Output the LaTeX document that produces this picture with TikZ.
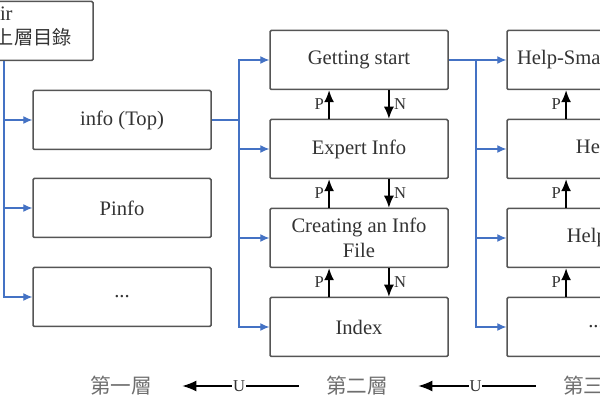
\documentclass[tikz,border=0pt]{standalone}
\usepackage{fontspec}
\setmainfont{Liberation Serif}
\newfontfamily\cjk{Noto Sans CJK TC}
\usepackage{tikz}
\usetikzlibrary{arrows.meta,calc}
\definecolor{linkblue}{RGB}{68,114,196}
\definecolor{boxgray}{RGB}{85,85,85}
\definecolor{txtgray}{RGB}{51,51,51}
\definecolor{lvgray}{RGB}{110,110,110}
\tikzstyle{page}=[draw=boxgray, line width=0.75pt, rounded corners=0.6pt, fill=white, minimum width=89pt, minimum height=29.5pt, inner sep=1pt, align=center, text=txtgray, font=\fontsize{10.3}{12.5}\selectfont]
\tikzstyle{link}=[linkblue, line width=0.55pt, -{Latex[length=4.5pt,width=4pt]}]
\tikzstyle{move}=[black, line width=0.75pt, -{Latex[length=6pt,width=5pt]}]
\tikzstyle{pn}=[font=\fontsize{8.3}{10}\selectfont, text=txtgray, inner sep=2.2pt]
\tikzstyle{level}=[inner sep=0pt, text=lvgray, font=\cjk\fontsize{10.3}{12.5}\selectfont]
\newcommand{\infonode}{\node[page]}

\begin{document}
\begin{tikzpicture}[x=0.5pt,y=-0.5pt]
	\useasboundingbox (0,0) rectangle (600,400);
	\clip (0,0) rectangle (600,400);
	%% the upper directory
	\infonode (dir) at (4,31) {};
	\node[text=txtgray, inner sep=0pt, anchor=base east, font=\fontsize{10.3}{12.5}\selectfont] (dirname) at (13,21) {dir};
	\node[text=txtgray, inner sep=0pt, anchor=base east, font=\cjk\fontsize{9.6}{12.5}\selectfont] (dirzh) at (72,45) {上層目錄};
	%% first level
	\infonode (top) at (122,120) {info (Top)};
	\infonode (pinfo) at (122,208) {Pinfo};
	\infonode (more1) at (122,297) {...};
	%% second level
	\infonode (start) at (359,60) {Getting start};
	\infonode (expert) at (359,149) {Expert Info};
	\infonode (create) at (359,238) {Creating an Info\\File};
	\infonode (index) at (359,327) {Index};
	%% third level
	\infonode (small) at (596,60) {Help-Small-Screen};
	\infonode (help) at (596,149) {Help};
	\infonode (helpp) at (596,238) {Help-P};
	\infonode (more3) at (596,327) {...};
	%% level names
	\node[level] (lv1) at (121,386) {第一層};
	\node[level] (lv2) at (357,386) {第二層};
	\node[level] (lv3) at (594,386) {第三層};
	%% the menu links
	\draw[link] (dir.south) |- (top.west);
	\draw[link] (dir.south) |- (pinfo.west);
	\draw[link] (dir.south) |- (more1.west);
	\coordinate (busB) at (239,120);
	\draw[link,-] (top.east) -- (busB);
	\foreach \n in {start,expert,create,index}
		\draw[link] (busB) |- (\n.west);
	\coordinate (busC) at (476,60);
	\draw[link,-] (start.east) -- (busC);
	\foreach \n in {small,help,helpp,more3}
		\draw[link] (busC) |- (\n.west);
	%% previous and next
	\foreach \a/\b in {start/expert,expert/create,create/index} {
		\draw[move] ($(\b.north west)!1/3!(\b.north east)$) -- node[pn,left]{P} ($(\a.south west)!1/3!(\a.south east)$);
		\draw[move] ($(\a.south west)!2/3!(\a.south east)$) -- node[pn,right]{N} ($(\b.north west)!2/3!(\b.north east)$);
	}
	\foreach \a/\b in {small/help,help/helpp,helpp/more3}
		\draw[move] ($(\b.north west)!1/3!(\b.north east)$) -- node[pn,left]{P} ($(\a.south west)!1/3!(\a.south east)$);
	%% up
	\draw[move, -{Latex[length=7pt,width=5.5pt]}, shorten >=15pt, shorten <=13.5pt] (lv2.west) -- node[pn, fill=white, inner sep=0.5pt]{U} (lv1.east);
	\draw[move, -{Latex[length=7pt,width=5.5pt]}, shorten >=15pt, shorten <=13.5pt] (lv3.west) -- node[pn, fill=white, inner sep=0.5pt]{U} (lv2.east);
\end{tikzpicture}
\end{document}
